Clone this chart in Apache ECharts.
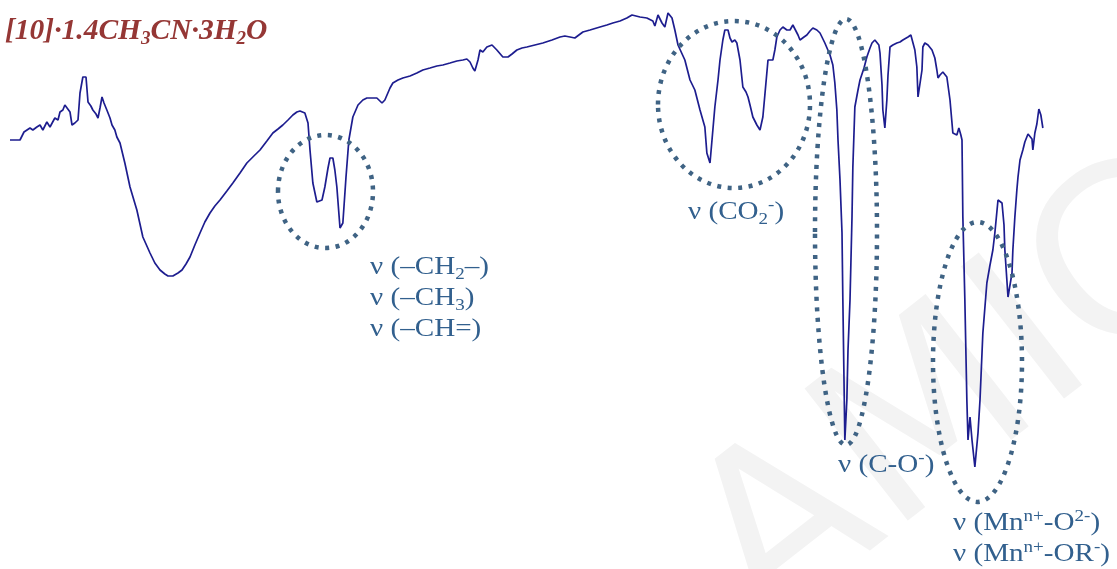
<!DOCTYPE html>
<html>
<head>
<meta charset="utf-8">
<script src="https://cdn.jsdelivr.net/npm/echarts@6/dist/echarts.min.js"></script>
<style>
html,body{margin:0;padding:0;background:#ffffff;}
#chart{width:1117px;height:569px;}
</style>
</head>
<body>
<div id="chart"></div>
<script>
// IR spectrum: wavenumber (cm-1) and relative transmittance (%)
var wavenumbers = [
4000,3965,3951,3930,3920,3906,3895,3885,3871,3860,3843,3832,3825,3815,3808,3801,3790,3783,3773,3762,
3755,3745,3734,3727,3717,3710,3699,3692,3685,3678,3671,3661,3650,3643,3633,3626,3615,3598,3580,3556,
3535,3510,3493,3475,3458,3447,3430,3412,3398,3384,3370,3353,3335,3318,3300,3283,3265,3241,3220,3195,
3171,3150,3125,3101,3080,3062,3045,3027,3010,2996,2985,2968,2957,2950,2940,2926,2908,2898,2887,2880,
2870,2863,2856,2845,2835,2824,2814,2800,2782,2765,2751,2733,2716,2698,2688,2670,2660,2642,2625,2600,
2576,2555,2530,2506,2485,2460,2436,2415,2401,2390,2380,2373,2362,2355,2345,2331,2313,2296,2275,2257,
2243,2226,2208,2191,2163,2135,2103,2075,2058,2040,2023,2016,1995,1970,1935,1911,1890,1865,1841,1823,
1809,1795,1771,1750,1743,1732,1718,1708,1697,1683,1673,1662,1655,1638,1620,1603,1585,1568,1561,1550,
1543,1533,1522,1515,1505,1498,1487,1480,1473,1463,1456,1445,1435,1424,1417,1410,1400,1386,1375,1365,
1358,1347,1330,1323,1316,1305,1295,1281,1270,1260,1253,1242,1235,1221,1211,1200,1190,1176,1165,1148,
1130,1120,1113,1106,1102,1095,1088,1085,1081,1078,1071,1067,1060,1053,1050,1043,1032,1025,1011,1001,
990,983,973,966,959,955,948,945,938,931,927,920,910,896,885,875,857,847,840,833,
826,822,815,808,805,798,787,773,763,756,752,745,735,728,721,710,700,686,679,672,
668,665,658,651,647,640,633,623,612,605,595,581,570,560,553,542,535,528,521,518,
507,500,493,490,483,476,472,465,455,448,437,430,423,420,413,406,399,392,385
];
var transmittance = [
75.8,75.8,77.4,78.2,77.8,78.4,78.8,77.8,79.4,78.4,80.2,79.8,81.4,81.8,82.8,83.2,81.4,78.8,79.2,79.8,
85.2,88.4,88.4,83.4,82.6,81.8,81.0,80.2,82.2,84.4,83.2,81.8,80.2,78.8,77.8,76.4,75.2,71.2,66.4,61.8,
56.4,53.2,51.2,49.8,49.0,48.6,48.6,49.2,49.8,51.0,52.4,54.8,57.2,59.4,61.2,62.6,63.8,65.6,67.2,69.2,
71.2,72.4,73.8,75.6,77.2,78.0,78.8,79.8,80.8,81.4,81.6,81.2,79.2,73.8,67.2,63.4,63.8,66.4,70.2,72.2,
72.2,69.8,66.4,58.2,59.2,68.4,75.8,80.4,82.8,83.8,84.2,84.2,84.2,83.2,83.8,86.2,87.2,87.8,88.2,88.6,
89.2,89.8,90.2,90.6,90.8,91.2,91.6,91.8,92.0,91.4,90.2,89.6,91.8,93.8,93.4,94.4,94.8,93.8,92.4,92.4,
93.0,93.8,94.2,94.4,94.8,95.2,95.8,96.4,96.6,96.4,96.2,96.2,97.4,97.8,98.4,98.8,99.2,99.6,100.2,100.8,
100.6,100.4,100.2,99.6,98.6,100.8,99.2,98.4,101.2,100.2,97.8,94.8,94.4,91.8,87.8,85.8,81.8,78.4,73.2,71.2,
75.8,82.4,87.8,91.8,95.8,97.8,97.8,96.2,95.4,95.8,95.2,91.8,86.4,85.4,84.4,82.8,80.4,78.8,77.8,80.4,
84.8,91.8,91.8,93.8,96.4,97.8,98.4,97.8,97.8,98.8,98.8,96.8,95.8,96.4,96.8,97.6,98.2,97.8,97.2,95.2,
92.8,90.8,87.2,81.8,75.8,67.8,57.2,43.8,27.8,15.8,23.8,33.8,43.8,60.4,70.4,82.4,85.8,87.8,90.2,92.4,
94.2,95.2,95.8,96.2,94.8,93.2,86.8,81.8,78.2,83.8,88.8,94.4,94.8,95.2,95.4,95.8,96.4,96.8,96.4,93.8,
90.4,84.4,84.2,89.8,94.4,95.2,94.8,93.8,92.2,89.8,88.2,88.8,89.4,89.2,88.4,83.8,77.2,76.8,78.2,76.8,
75.8,60.4,43.8,23.8,15.8,20.4,15.8,10.4,17.2,23.8,37.2,47.2,50.8,53.8,57.2,63.8,64.2,63.2,58.8,53.8,
44.4,46.8,49.2,53.8,60.4,65.8,68.4,71.8,73.8,75.4,77.0,77.4,76.0,73.8,77.2,79.0,82.0,80.8,78.2
];
var titleText = '[10]·1.4CH{s|3}CN·3H{s|2}O';
var bandLabels = [
  'ν (–CH{sub|2}–)\nν (–CH{sub|3})\nν (–CH=)',
  'ν (CO{sub|2}{sup|-})',
  'ν (C-O{sup|-})',
  'ν (Mn{sup|n+}-O{sup|2-})\nν (Mn{sup|n+}-OR{sup|-})'
];

var seriesData = wavenumbers.map(function (w, i) { return [w, transmittance[i]]; });

var chart = echarts.init(document.getElementById('chart'), null, {renderer: 'canvas'});

var labelFont = 'Liberation Serif';
var labelColor = '#32608e';
var dotColor = '#3f6384';
var richLab = {
  sub: {fontFamily: labelFont, fontSize: 17, lineHeight: 16, verticalAlign: 'bottom', fill: labelColor},
  sup: {fontFamily: labelFont, fontSize: 17, lineHeight: 16, verticalAlign: 'top', fill: labelColor}
};
function bandLabel(txt, x, y) {
  return {
    type: 'text', x: x, y: y, z: 20, scaleX: 1.12,
    style: {
      text: txt, fontFamily: labelFont, fontSize: 26, lineHeight: 31,
      fill: labelColor, verticalAlign: 'top', align: 'left', rich: richLab
    }
  };
}
function dottedEllipse(cx, cy, rx, ry) {
  return {
    type: 'ellipse', z: 15,
    shape: {cx: cx, cy: cy, rx: rx, ry: ry},
    style: {fill: null, stroke: dotColor, lineWidth: 4.5, lineDash: [4, 6.5], lineCap: 'butt'}
  };
}

var option = {
  backgroundColor: '#ffffff',
  animation: false,
  grid: {left: 10, right: 64.143, top: 19, bottom: 50, containLabel: false},
  xAxis: {type: 'value', min: 350, max: 4000, inverse: true, show: false},
  yAxis: {type: 'value', min: 0, max: 100, show: false},
  series: [{
    type: 'line',
    data: seriesData,
    showSymbol: false,
    symbol: 'none',
    clip: false,
    z: 10,
    lineStyle: {color: '#1d1d8f', width: 1.7},
    silent: true
  }],
  graphic: [
    {
      type: 'text', x: 800, y: 675, z: 0, rotation: 38 * Math.PI / 180,
      style: {text: 'AMIC', fontFamily: 'DejaVu Sans', fontSize: 230, fill: '#f3f3f3', verticalAlign: 'bottom', align: 'left'}
    },
    {
      type: 'text', x: 5, y: 13, z: 20,
      style: {
        text: titleText, fontFamily: labelFont, fontSize: 29.5, fontWeight: 'bold', fontStyle: 'italic',
        lineHeight: 36, fill: '#953735', verticalAlign: 'top', align: 'left',
        rich: {
          s: {fontFamily: labelFont, fontSize: 19, fontWeight: 'bold', fontStyle: 'italic', lineHeight: 19, verticalAlign: 'bottom', fill: '#953735'}
        }
      }
    },
    dottedEllipse(325.5, 191.5, 47.5, 56.5),
    dottedEllipse(734, 104.5, 76, 83.5),
    dottedEllipse(846, 232, 31, 213),
    dottedEllipse(977.5, 362, 44.5, 140),
    bandLabel(bandLabels[0], 370, 252),
    bandLabel(bandLabels[1], 688, 197),
    bandLabel(bandLabels[2], 838, 450),
    bandLabel(bandLabels[3], 953, 508)
  ]
};
chart.setOption(option);
</script>
</body>
</html>
